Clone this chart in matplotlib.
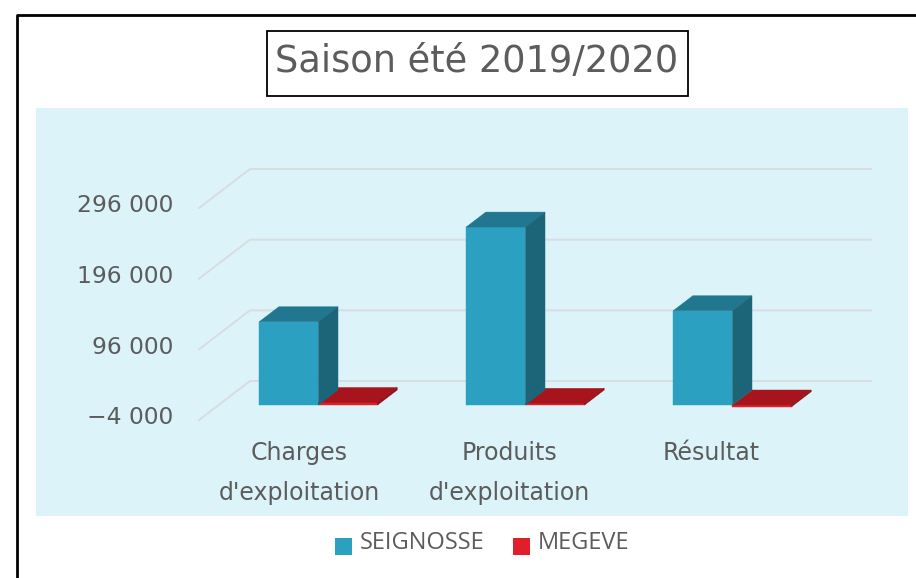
import matplotlib
matplotlib.use("Agg")
import matplotlib.pyplot as plt
from matplotlib.patches import Polygon, Rectangle

W, H = 916, 578

categories = ["Charges\nd'exploitation", "Produits\nd'exploitation", "Résultat"]
label_x = [-0.0145, 0.9976, 1.9734]
seignosse = [113800, 247800, 129400]
megeve = [-460, -1600, -6400]
y_ticks = [-4000, 96000, 196000, 296000]
y_tick_labels = ["−4 000", "96 000", "196 000", "296 000"]

BLUE = ("#2ba0c1", "#21778f", "#1c6579")
RED = ("#e01f2a", "#a8141b", "#8f1017")
GRID = "#d9dce0"
TEXT = "#5c5c5c"


def px_box(x0, y0, x1, y1):
    return [x0 / W, 1 - y1 / H, (x1 - x0) / W, (y1 - y0) / H]


fig = plt.figure(figsize=(W / 100, H / 100), dpi=100, facecolor="white")

# page decorations are in pixel coords
bg = fig.add_axes([0, 0, 1, 1])
bg.set_xlim(0, W)
bg.set_ylim(H, 0)
bg.axis("off")
bg.plot([17, 17, W + 5], [H + 5, 14.5, 14.5], color="black", lw=2, clip_on=False)
bg.add_patch(Rectangle((36, 108), 872, 408, fc="#dcf4f9", ec="none"))
bg.add_patch(Rectangle((266.5, 30.5), 421, 65, fc="white", ec="black", lw=1.3))
bg.text(477, 62, "Saison été 2019/2020", fontsize=26.5, color=TEXT, ha="center", va="center",
        family="DejaVu Sans")

# front plane of the fake 3d box
ax = fig.add_axes(px_box(199, 208, 820, 420))
ax.set_xlim(-0.5, 2.5)
ax.set_ylim(-4000, 296000)
ax.axis("off")

depth_x = 51 / 207
depth_y = 39 / (212 / 300000)
bar_w = 59.2 / 207
shift = -0.018


def back(x, y, d=1.0):
    return (x + depth_x * d, y + depth_y * d)


for t, lab in zip(y_ticks, y_tick_labels):
    ax.plot([-0.5, -0.5 + depth_x, 2.5 + depth_x], [t, t + depth_y, t + depth_y], color=GRID, lw=1.4,
            clip_on=False, solid_joinstyle="miter", zorder=1)
    ax.text(-0.5 - 26 / 207, t + 3000, lab, fontsize=16.8, color=TEXT, ha="right", va="center", family="DejaVu Sans")


def draw_bar(x0, val, colors, z):
    x1 = x0 + bar_w
    lo = min(val, y_ticks[0])
    hi = max(val, y_ticks[0])
    d0, d1 = 15 / 39, 30 / 39
    front = [back(x0, lo, d0), back(x1, lo, d0), back(x1, hi, d0), back(x0, hi, d0)]
    top = [back(x0, hi, d0), back(x1, hi, d0), back(x1, hi, d1), back(x0, hi, d1)]
    side = [back(x1, lo, d0), back(x1, lo, d1), back(x1, hi, d1), back(x1, hi, d0)]
    for pts, col in zip((front, top, side), colors):
        ax.add_patch(Polygon(pts, closed=True, fc=col, ec=col, lw=0.3, clip_on=False, zorder=z))


for i in range(len(categories)):
    draw_bar(i + shift, megeve[i], RED, 2)
    draw_bar(i + shift - bar_w, seignosse[i], BLUE, 3)
    ax.text(label_x[i], -4000 - 21 / 212 * 300000, categories[i], fontsize=17, color=TEXT, ha="center", va="top",
            linespacing=1.84, family="DejaVu Sans", clip_on=False)

# legend
bg.add_patch(Rectangle((335, 538), 17, 17, fc=BLUE[0], ec="none"))
bg.add_patch(Rectangle((513, 538), 17, 17, fc=RED[0], ec="none"))
bg.text(360, 543, "SEIGNOSSE", fontsize=17, color=TEXT, va="center", family="Open Sans")
bg.text(538, 543, "MEGEVE", fontsize=17, color=TEXT, va="center", family="Open Sans")

fig.savefig("out.png", dpi=100)
